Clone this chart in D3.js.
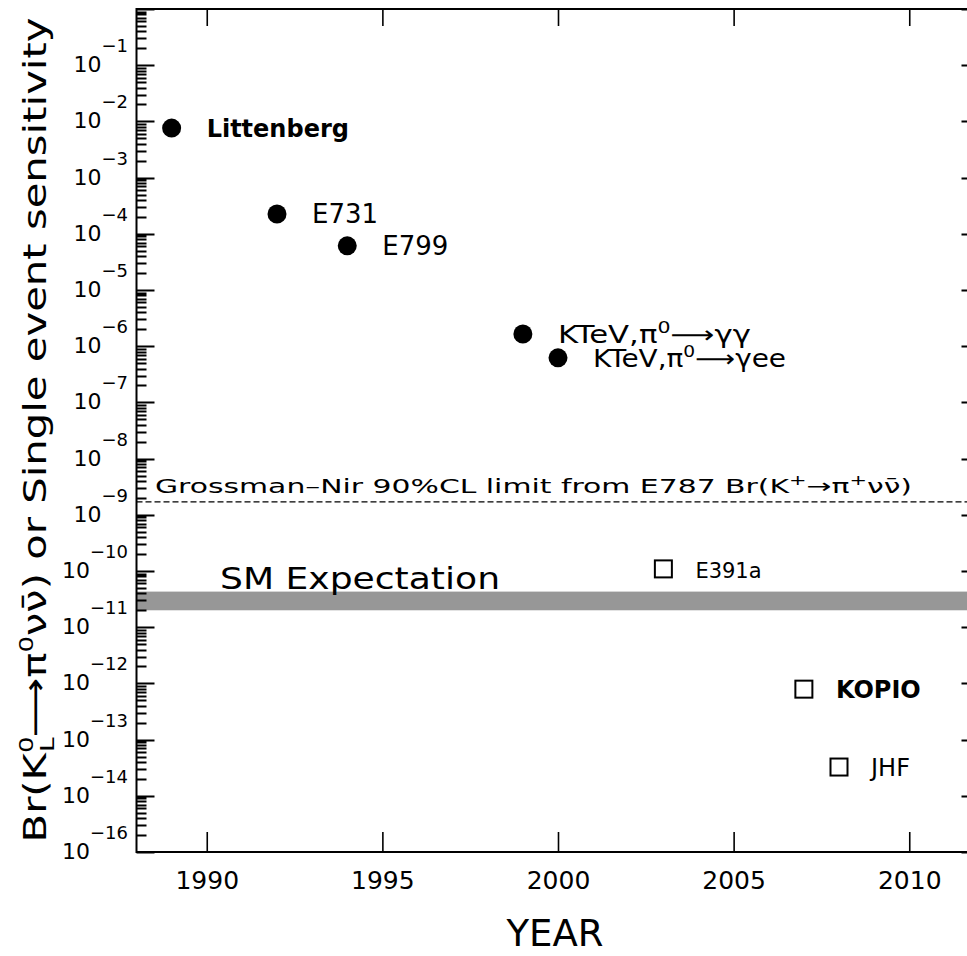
<!DOCTYPE html>
<html lang="en">
<head>
<meta charset="utf-8">
<title>KL to pi0 nu nubar: limits and sensitivities by year</title>
<script src="https://d3js.org/d3.v7.min.js"></script>
<style>
  body { margin: 0; background: #fff; }
  svg { display: block; font-family: "DejaVu Sans", sans-serif; }
  .axis path { display: none; }
  .axis line { stroke: #000; stroke-width: 1.6px; }
</style>
</head>
<body>
<script>

// past experiments (filled dots)
var pastNames  = ["Littenberg", "E731", "E799", "KTeV,π0→γγ", "KTeV,π0→γee"];
var pastYears  = [1989, 1992, 1994, 1999, 2000];
var pastValues = [7.6e-3, 2.25e-4, 6.1e-5, 1.65e-6, 6.2e-7];

// proposed experiments (open squares)
var futureNames  = ["E391a", "KOPIO", "JHF"];
var futureYears  = [2003, 2007, 2008];
var futureValues = [1.09e-10, 7.9e-13, 3.25e-14];

// Grossman-Nir bound and SM band
var gnLimit = 1.7e-9;
var smBand = [2.0e-11, 4.3e-11];

// ticks
var yearTicks = [1990, 1995, 2000, 2005, 2010];
var decadeTicks = [1, 1e-1, 1e-2, 1e-3, 1e-4, 1e-5, 1e-6, 1e-7, 1e-8, 1e-9, 1e-10, 1e-11, 1e-12, 1e-13, 1e-14, 1e-15];
var decadeLabels = ["", "−1", "−2", "−3", "−4", "−5", "−6", "−7", "−8", "−9", "−10", "−11", "−12", "−13", "−14", "−16"];
var minorSteps = [2, 3, 4, 5, 6, 7, 8, 9];

var w = 967, h = 956;
var x0 = 136.5, x1 = 979.5, yTop = 9, yBot = 852;

var svg = d3.select("body").append("svg")
    .attr("width", w)
    .attr("height", h);

var x = d3.scaleLinear().domain([1988, 2012]).range([x0, x1]);
var y = d3.scaleLog().domain([1e-15, 1]).range([yBot, yTop]);

// SM band
svg.append("rect")
    .attr("x", x0)
    .attr("y", y(smBand[1]))
    .attr("width", x1 - x0)
    .attr("height", y(smBand[0]) - y(smBand[1]))
    .attr("fill", "#979797");

svg.append("text")
    .attr("x", 220)
    .attr("y", y(smBand[1]) - 3)
    .attr("font-size", 30)
    .attr("textLength", 280)
    .attr("lengthAdjust", "spacingAndGlyphs")
    .text("SM Expectation");

// Grossman-Nir line
svg.append("line")
    .attr("x1", x0).attr("x2", x1)
    .attr("y1", y(gnLimit)).attr("y2", y(gnLimit))
    .attr("stroke", "#000")
    .attr("stroke-width", 1.4)
    .attr("stroke-dasharray", "6,3");

var gn = svg.append("text")
    .attr("x", 155)
    .attr("y", y(gnLimit) - 9)
    .attr("font-size", 20)
    .attr("textLength", 757)
    .attr("lengthAdjust", "spacingAndGlyphs");
gn.append("tspan").text("Grossman–Nir 90%CL limit from E787 Br(K");
gn.append("tspan").attr("dy", -8).attr("font-size", 14).text("+");
gn.append("tspan").attr("dy", 8).text("→π");
gn.append("tspan").attr("dy", -8).attr("font-size", 14).text("+");
gn.append("tspan").attr("dy", 8).text("νν̄)");

// y ticks, drawn inward on both sides: long at decades, short in between
var minorTicks = [];
decadeTicks.slice(1).forEach(function(d) {
  minorSteps.forEach(function(k) { minorTicks.push(k * d); });
});

var yTicks = decadeTicks.map(v => ({v: v, len: 18}))
    .concat(minorTicks.map(v => ({v: v, len: 10})));

var tickPath = d3.path();
yTicks.forEach(function(d) {
  var yy = Math.round(y(d.v)) + 0.5;
  tickPath.moveTo(x0, yy); tickPath.lineTo(x0 + d.len, yy);
  tickPath.moveTo(x1, yy); tickPath.lineTo(x1 - d.len, yy);
});
svg.append("path")
    .attr("d", tickPath.toString())
    .attr("fill", "none")
    .attr("stroke", "#000")
    .attr("stroke-width", 2);

var xAxis = svg.append("g").attr("class", "axis")
    .attr("transform", `translate(0,${yBot})`)
    .call(d3.axisBottom(x).tickValues(yearTicks).tickSize(-20).tickPadding(19).tickFormat(d3.format("d")));
xAxis.selectAll("text")
    .attr("font-size", 25)
    .attr("font-family", "DejaVu Sans");

svg.append("g").attr("class", "axis")
    .attr("transform", `translate(0,${yTop})`)
    .call(d3.axisTop(x).tickValues(yearTicks).tickSize(-17).tickFormat(""));

// frame
svg.append("rect")
    .attr("x", x0).attr("y", yTop)
    .attr("width", x1 - x0).attr("height", yBot - yTop)
    .attr("fill", "none")
    .attr("stroke", "#000")
    .attr("stroke-width", 2);

// y tick labels: 10^n (none at the top)
svg.selectAll(".ylab")
    .data(decadeTicks.slice(1))
    .join("text")
    .attr("class", "ylab")
    .attr("x", 128)
    .attr("y", d => y(d) + 7)
    .attr("text-anchor", "end")
    .attr("font-size", 22)
    .each(function(d, i) {
      var t = d3.select(this);
      t.append("tspan").text("10");
      t.append("tspan").attr("dy", -20).attr("font-size", 18).text(decadeLabels[i + 1]);
    });

// past measurements
var past = pastYears.map(function(yr, i) {
  return {name: pastNames[i], year: yr, value: pastValues[i]};
});

svg.selectAll(".dot")
    .data(past)
    .join("circle")
    .attr("class", "dot")
    .attr("cx", d => x(d.year))
    .attr("cy", d => y(d.value))
    .attr("r", 9.5)
    .attr("fill", "#000");

svg.selectAll(".plab")
    .data(past)
    .join("text")
    .attr("class", "plab")
    .attr("x", d => x(d.year) + 35)
    .attr("y", d => y(d.value) + 9)
    .attr("font-size", d => d.name == "Littenberg" ? 24 : 26)
    .attr("font-weight", d => d.name == "Littenberg" ? "bold" : "normal")
    .each(function(d) {
      var t = d3.select(this);
      var m = d.name.match(/^(KTeV,π)0(→)(.*)$/);
      if (!m) { t.text(d.name); return; }
      t.attr("font-size", 24)
       .attr("textLength", d.name.length > 11 ? 210 : 193)
       .attr("lengthAdjust", "spacingAndGlyphs");
      t.append("tspan").text(m[1]);
      t.append("tspan").attr("dy", -10).attr("font-size", 16).text("0");
      t.append("tspan").attr("dy", 10).text("⟶" + m[3]);
    });

// proposed experiments
var future = futureYears.map(function(yr, i) {
  return {name: futureNames[i], year: yr, value: futureValues[i]};
});

svg.selectAll(".sq")
    .data(future)
    .join("rect")
    .attr("class", "sq")
    .attr("x", d => x(d.year) - 8.5)
    .attr("y", d => y(d.value) - 8.5)
    .attr("width", 17)
    .attr("height", 17)
    .attr("fill", "none")
    .attr("stroke", "#000")
    .attr("stroke-width", 2);

svg.selectAll(".flab")
    .data(future)
    .join("text")
    .attr("class", "flab")
    .attr("x", d => x(d.year) + 32)
    .attr("y", d => y(d.value) + 9)
    .attr("font-size", d => d.name == "E391a" ? 21 : 24)
    .attr("font-weight", d => d.name == "KOPIO" ? "bold" : "normal")
    .text(d => d.name);

// axis titles
svg.append("text")
    .attr("x", 555)
    .attr("y", 946)
    .attr("text-anchor", "middle")
    .attr("font-size", 37)
    .text("YEAR");

var yt = svg.append("text")
    .attr("transform", "translate(46,430) rotate(-90)")
    .attr("text-anchor", "middle")
    .attr("font-size", 32)
    .attr("textLength", 825)
    .attr("lengthAdjust", "spacingAndGlyphs");
yt.append("tspan").text("Br(K");
yt.append("tspan").attr("dy", -13).attr("font-size", 20).text("0");
yt.append("tspan").attr("dx", -12).attr("dy", 21).attr("font-size", 20).text("L");
yt.append("tspan").attr("dy", -8).text("⟶π");
yt.append("tspan").attr("dy", -13).attr("font-size", 20).text("0");
yt.append("tspan").attr("dy", 13).text("νν̄) or Single event sensitivity");

</script>
</body>
</html>
